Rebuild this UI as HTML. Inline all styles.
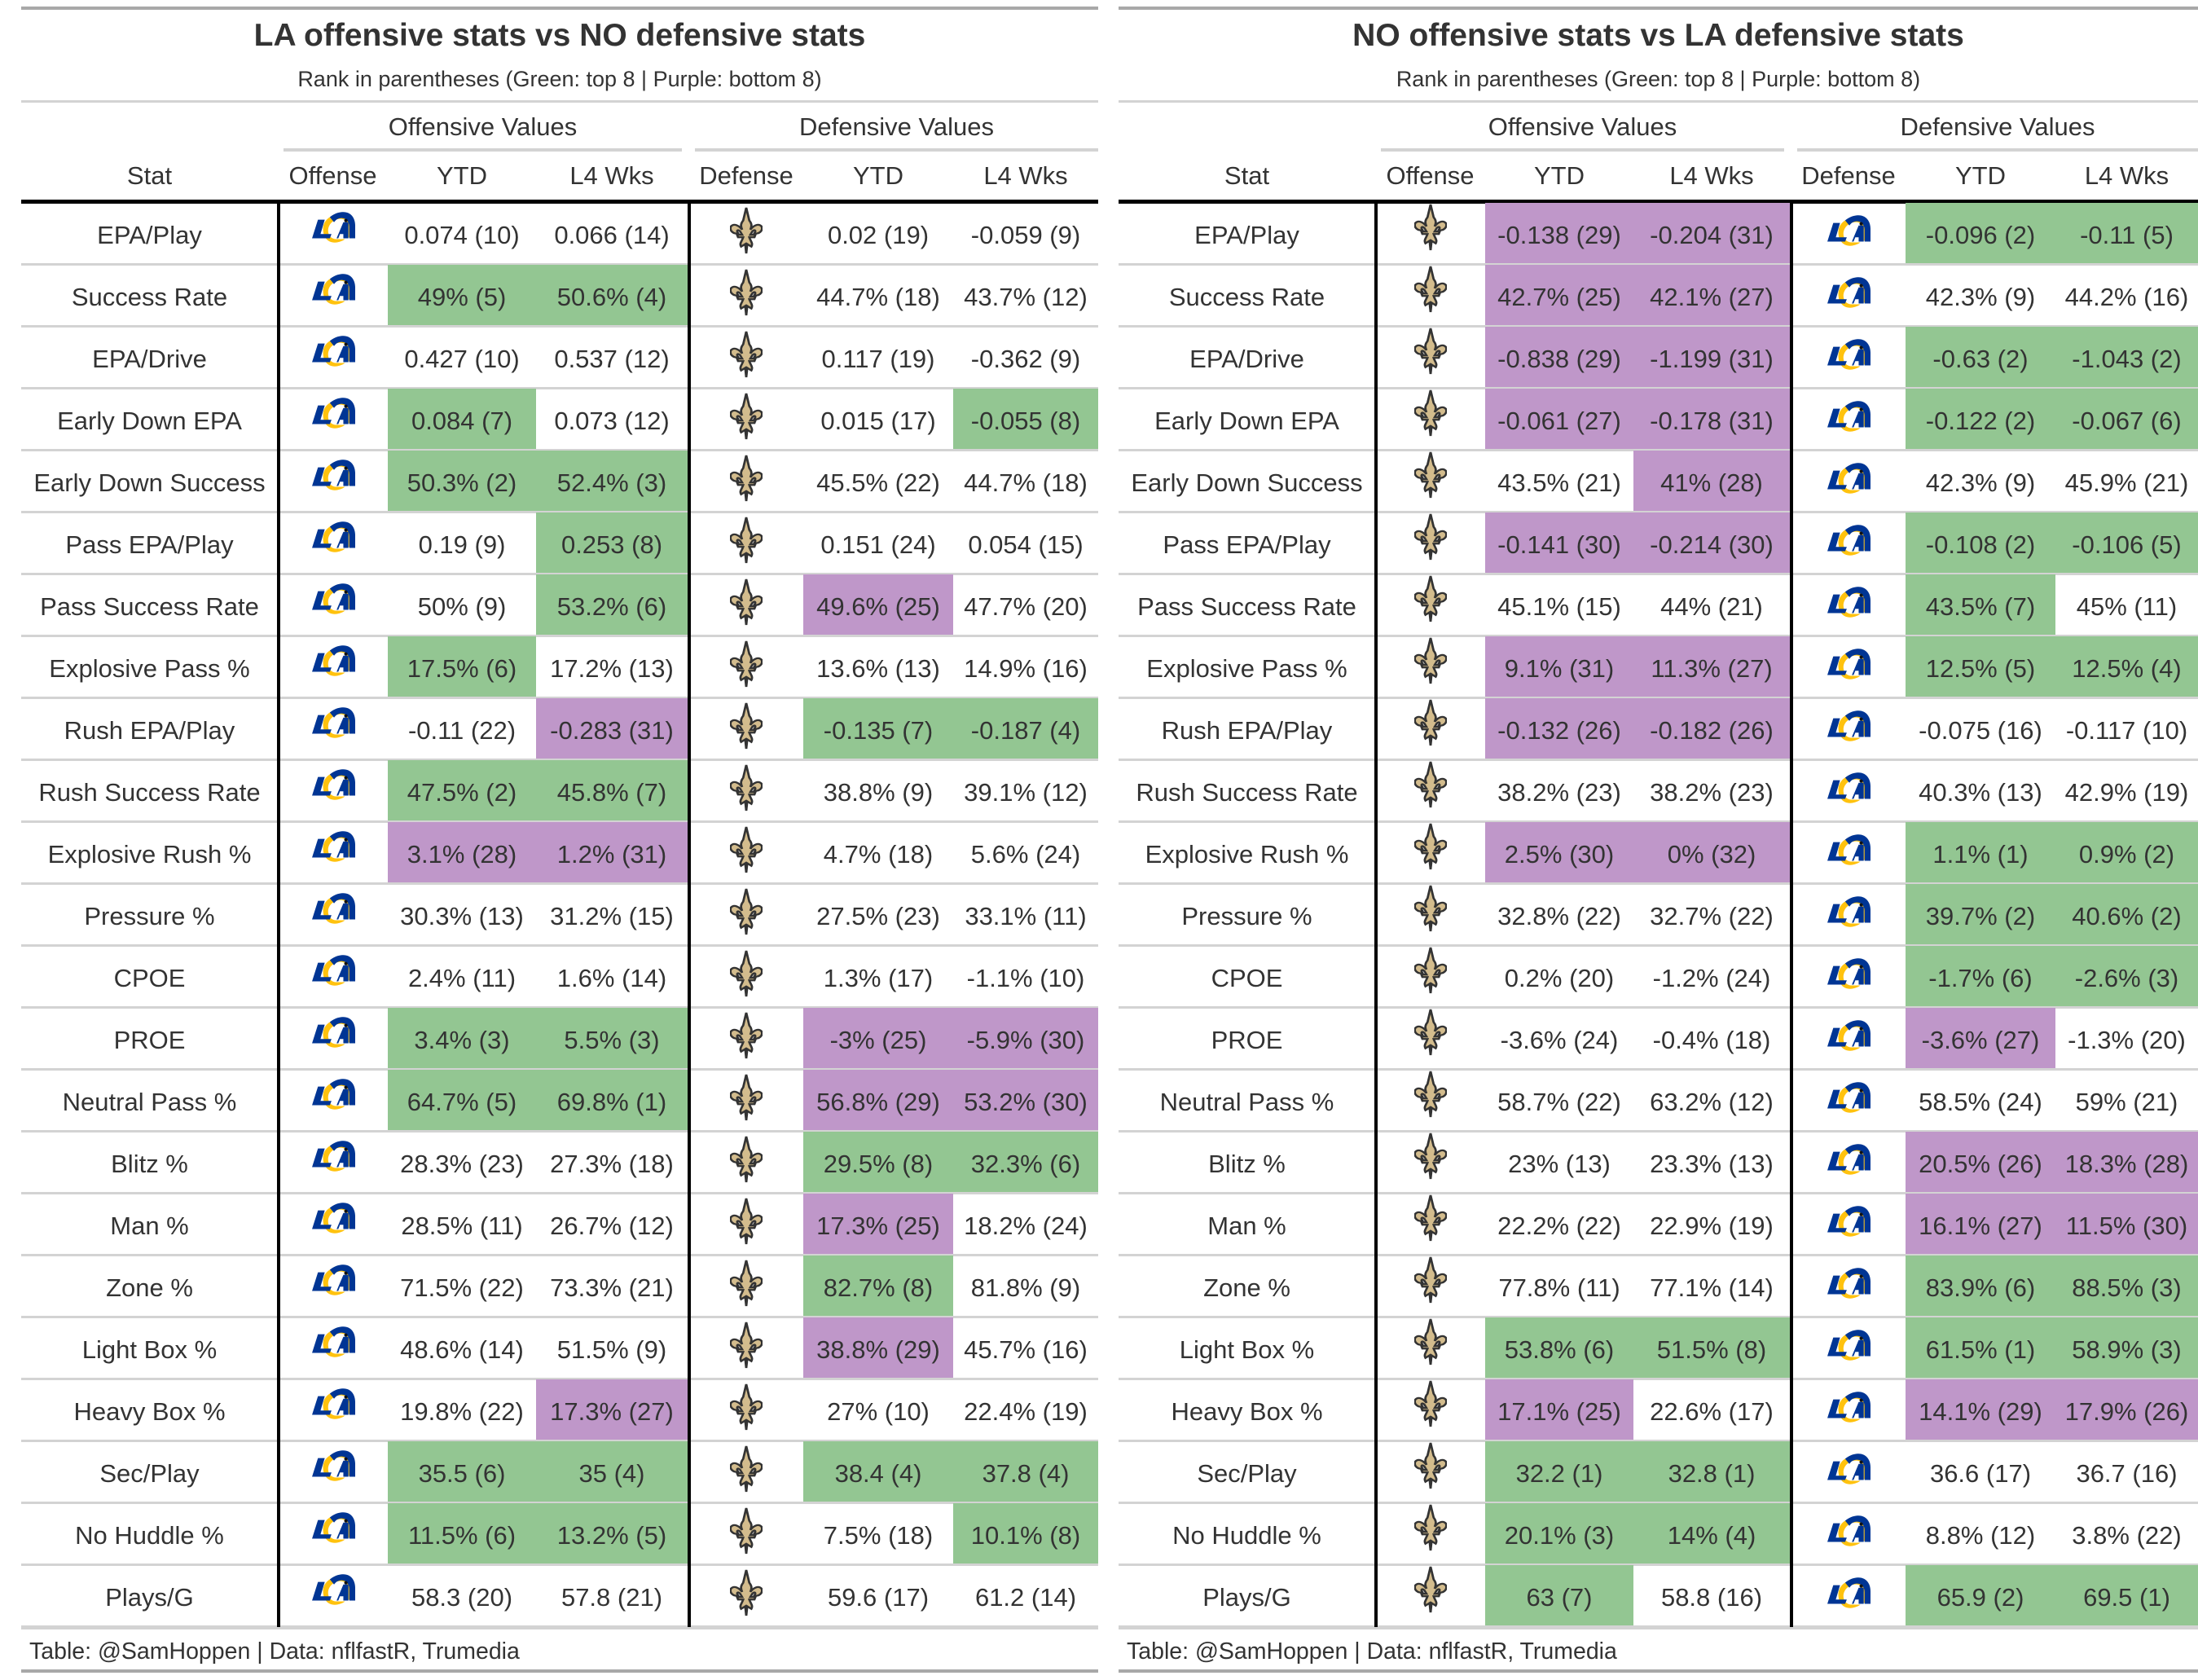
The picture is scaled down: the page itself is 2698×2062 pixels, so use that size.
<!DOCTYPE html>
<html><head><meta charset="utf-8">
<style>
html,body{margin:0;padding:0;background:#fff;}
body{width:2698px;height:2062px;position:relative;overflow:hidden;font-family:"Liberation Sans",sans-serif;color:#333;}
.abs{position:absolute;}
.tbl{position:absolute;top:0;width:1322px;height:2062px;}
.c{position:absolute;display:flex;align-items:center;justify-content:center;white-space:nowrap;}
.txt{font-size:31px;padding-top:4px;box-sizing:border-box;}
</style></head>
<body>
<div id="t1" class="tbl" style="left:26px"></div>
<div id="t2" class="tbl" style="left:1373px;width:1325px"></div>
<script>
const stats=["EPA/Play","Success Rate","EPA/Drive","Early Down EPA","Early Down Success","Pass EPA/Play","Pass Success Rate","Explosive Pass %","Rush EPA/Play","Rush Success Rate","Explosive Rush %","Pressure %","CPOE","PROE","Neutral Pass %","Blitz %","Man %","Zone %","Light Box %","Heavy Box %","Sec/Play","No Huddle %","Plays/G"];
const laOffYtd=["0.074 (10)","49% (5)","0.427 (10)","0.084 (7)","50.3% (2)","0.19 (9)","50% (9)","17.5% (6)","-0.11 (22)","47.5% (2)","3.1% (28)","30.3% (13)","2.4% (11)","3.4% (3)","64.7% (5)","28.3% (23)","28.5% (11)","71.5% (22)","48.6% (14)","19.8% (22)","35.5 (6)","11.5% (6)","58.3 (20)"];
const laOffL4=["0.066 (14)","50.6% (4)","0.537 (12)","0.073 (12)","52.4% (3)","0.253 (8)","53.2% (6)","17.2% (13)","-0.283 (31)","45.8% (7)","1.2% (31)","31.2% (15)","1.6% (14)","5.5% (3)","69.8% (1)","27.3% (18)","26.7% (12)","73.3% (21)","51.5% (9)","17.3% (27)","35 (4)","13.2% (5)","57.8 (21)"];
const noDefYtd=["0.02 (19)","44.7% (18)","0.117 (19)","0.015 (17)","45.5% (22)","0.151 (24)","49.6% (25)","13.6% (13)","-0.135 (7)","38.8% (9)","4.7% (18)","27.5% (23)","1.3% (17)","-3% (25)","56.8% (29)","29.5% (8)","17.3% (25)","82.7% (8)","38.8% (29)","27% (10)","38.4 (4)","7.5% (18)","59.6 (17)"];
const noDefL4=["-0.059 (9)","43.7% (12)","-0.362 (9)","-0.055 (8)","44.7% (18)","0.054 (15)","47.7% (20)","14.9% (16)","-0.187 (4)","39.1% (12)","5.6% (24)","33.1% (11)","-1.1% (10)","-5.9% (30)","53.2% (30)","32.3% (6)","18.2% (24)","81.8% (9)","45.7% (16)","22.4% (19)","37.8 (4)","10.1% (8)","61.2 (14)"];
const noOffYtd=["-0.138 (29)","42.7% (25)","-0.838 (29)","-0.061 (27)","43.5% (21)","-0.141 (30)","45.1% (15)","9.1% (31)","-0.132 (26)","38.2% (23)","2.5% (30)","32.8% (22)","0.2% (20)","-3.6% (24)","58.7% (22)","23% (13)","22.2% (22)","77.8% (11)","53.8% (6)","17.1% (25)","32.2 (1)","20.1% (3)","63 (7)"];
const noOffL4=["-0.204 (31)","42.1% (27)","-1.199 (31)","-0.178 (31)","41% (28)","-0.214 (30)","44% (21)","11.3% (27)","-0.182 (26)","38.2% (23)","0% (32)","32.7% (22)","-1.2% (24)","-0.4% (18)","63.2% (12)","23.3% (13)","22.9% (19)","77.1% (14)","51.5% (8)","22.6% (17)","32.8 (1)","14% (4)","58.8 (16)"];
const laDefYtd=["-0.096 (2)","42.3% (9)","-0.63 (2)","-0.122 (2)","42.3% (9)","-0.108 (2)","43.5% (7)","12.5% (5)","-0.075 (16)","40.3% (13)","1.1% (1)","39.7% (2)","-1.7% (6)","-3.6% (27)","58.5% (24)","20.5% (26)","16.1% (27)","83.9% (6)","61.5% (1)","14.1% (29)","36.6 (17)","8.8% (12)","65.9 (2)"];
const laDefL4=["-0.11 (5)","44.2% (16)","-1.043 (2)","-0.067 (6)","45.9% (21)","-0.106 (5)","45% (11)","12.5% (4)","-0.117 (10)","42.9% (19)","0.9% (2)","40.6% (2)","-2.6% (3)","-1.3% (20)","59% (21)","18.3% (28)","11.5% (30)","88.5% (3)","58.9% (3)","17.9% (26)","36.7 (16)","3.8% (22)","69.5 (1)"];

const LA_LOGO='<svg width="54" height="38" viewBox="0 0 52 36"><path d="M14 20 C14 8 26 2 36 2 C46 2 51 9 51 18 L51 30 L44 30 L44 18 C44 12 40 8 35 8 C27 8 20 14 20 22 C20 28 24 32 30 32 L40 32 C36 35 31 36 28 36 C19 36 14 29 14 20Z" fill="#ffc20e"/><path d="M22 6 C28 1 34 0 38 0 C47 0 52 7 52 16 L52 31 L45 31 L45 17 C45 11 41 7 36 7 C32 7 29 9 27 12Z" fill="#003594"/><path d="M8 9 L16 9 L11 26 L24 26 L22 31 L1 31Z" fill="#003594"/><path d="M30 31 L38 12 L44 12 L44 31 L38 31 L38 26 L34 26 L32 31Z" fill="#003594"/><circle cx="41" cy="10" r="2" fill="#111"/></svg>';
const NO_LOGO='<svg width="40" height="58" viewBox="0 0 32 56" preserveAspectRatio="none"><path d="M16 1 L19 16 C21 19 22 22 20 27 C23 22 28 19 31 23 C33 28 28 33 24 31 C26 28 24 26 22 29 L20 33 L25 33 L24 36 L19 36 C20 40 23 43 21 47 L17 44 L16 55 L15 44 L11 47 C9 43 12 40 13 36 L8 36 L7 33 L12 33 L10 29 C8 26 6 28 8 31 C4 33 -1 28 1 23 C4 19 9 22 12 27 C10 22 11 19 13 16Z" fill="#d3bc8d" stroke="#333" stroke-width="2.2"/></svg>';

function bg(v){const r=parseInt(v.match(/\((\d+)\)/)[1]);return r<=8?'#93c692':(r>=25?'#bf97c9':'transparent');}
function mk(parent,name,inter,style,html,cls){
  const d=document.createElement('div');
  d.className=cls||'abs';
  
  
  d.style.cssText=style;
  if(html!==undefined)d.innerHTML=html;
  parent.appendChild(d);return d;
}
const RT=249,RH=76;
function build(id,title,offLogo,defLogo,oY,oL,dY,dL,sh,W){
  const cols=[[0,315],[315,450],[450,632],[632,818+sh],[820+sh,960+sh],[960+sh,1144+sh],[1144+sh,W]];
  const t=document.getElementById(id);
  mk(t,'top-rule','false','left:0;top:8px;width:'+W+'px;height:4px;background:#a8a8a8');
  mk(t,'table-title','false','left:0;top:20px;width:'+W+'px;height:48px;font-size:39px;font-weight:bold',title,'c');
  mk(t,'table-subtitle','false','left:0;top:80px;width:'+W+'px;height:34px;font-size:27px','Rank in parentheses (Green: top 8 | Purple: bottom 8)','c');
  mk(t,'subtitle-rule','false','left:0;top:123px;width:'+W+'px;height:3px;background:#d3d3d3');
  mk(t,'offensive-values-spanner','false','left:322px;top:136px;width:'+(489+sh)+'px;height:40px;font-size:31px','Offensive Values','c');
  mk(t,'offensive-spanner-rule','false','left:322px;top:182px;width:'+(489+sh)+'px;height:4px;background:#d3d3d3');
  mk(t,'defensive-values-spanner','false','left:'+(827+sh)+'px;top:136px;width:'+(W-827-sh)+'px;height:40px;font-size:31px','Defensive Values','c');
  mk(t,'defensive-spanner-rule','false','left:'+(827+sh)+'px;top:182px;width:'+(W-827-sh)+'px;height:4px;background:#d3d3d3');
  const heads=['Stat','Offense','YTD','L4 Wks','Defense','YTD','L4 Wks'];
  const hn=['stat-header','offense-header','offense-ytd-header','offense-l4-header','defense-header','defense-ytd-header','defense-l4-header'];
  for(let i=0;i<7;i++){
    mk(t,hn[i],'true','left:'+cols[i][0]+'px;top:196px;width:'+(cols[i][1]-cols[i][0])+'px;height:40px;font-size:31px',heads[i],'c');
  }
  mk(t,'header-rule','false','left:0;top:245px;width:'+W+'px;height:5px;background:#000');
  for(let r=0;r<stats.length;r++){
    const y=RT+r*RH;
    const vals=[oY[r],oL[r],dY[r],dL[r]];
    const vc=[2,3,5,6];
    for(let k=0;k<4;k++){
      const c=cols[vc[k]];
      mk(t,'value-cell','false','left:'+c[0]+'px;top:'+y+'px;width:'+(c[1]-c[0])+'px;height:'+RH+'px;background:'+bg(vals[k]),vals[k],'c txt');
    }
    mk(t,'stat-label','false','left:0;top:'+y+'px;width:315px;height:'+RH+'px',stats[r],'c txt');
    mk(t,'offense-logo','false','left:315px;top:'+(y-8)+'px;width:135px;height:'+RH+'px',offLogo,'c');
    mk(t,'defense-logo','false','left:'+cols[4][0]+'px;top:'+(y-4)+'px;width:'+(cols[4][1]-cols[4][0])+'px;height:'+RH+'px',defLogo,'c');
    mk(t,'row-rule','false','left:0;top:'+(y+RH-2)+'px;width:'+W+'px;height:'+(r==stats.length-1?5:3)+'px;background:#d3d3d3');
  }
  const bottom=RT+stats.length*RH;
  mk(t,'offense-divider','false','left:314px;top:247px;width:4px;height:'+(bottom-247)+'px;background:#000');
  mk(t,'defense-divider','false','left:'+(818+sh)+'px;top:247px;width:4px;height:'+(bottom-247)+'px;background:#000');
  mk(t,'table-source-note','false','left:10px;top:'+(bottom+10)+'px;height:40px;font-size:28.5px;justify-content:flex-start','Table: @SamHoppen | Data: nflfastR, Trumedia','c');
  mk(t,'bottom-rule','false','left:0;top:'+(bottom+52)+'px;width:'+W+'px;height:4px;background:#a8a8a8');
}
build('t1','LA offensive stats vs NO defensive stats',LA_LOGO,NO_LOGO,laOffYtd,laOffL4,noDefYtd,noDefL4,0,1322);
build('t2','NO offensive stats vs LA defensive stats',NO_LOGO,LA_LOGO,noOffYtd,noOffL4,laDefYtd,laDefL4,6,1325);
</script>
</body></html>
